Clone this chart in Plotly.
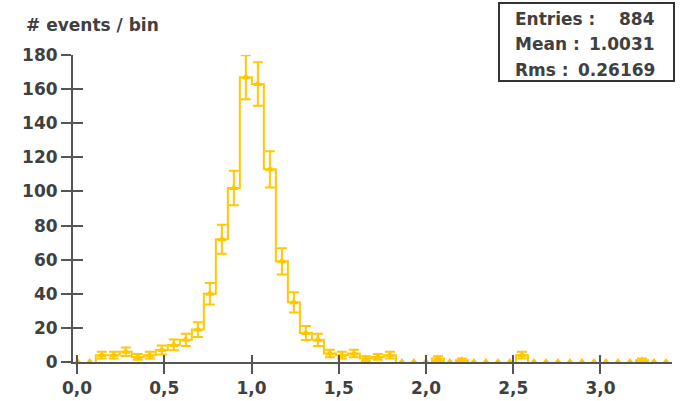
import numpy as np
import plotly.graph_objects as go

# ---------------- data ----------------
X_LOW, X_HIGH, N_BINS = -0.03, 3.41, 50
counts = [0, 0, 4, 4, 6, 3, 4, 7, 10, 13,
          19, 40, 72, 102, 167, 163, 113, 59, 35, 17,
          13, 5, 4, 5, 2, 3, 4, 0, 0, 0,
          2, 0, 1, 0, 0, 0, 0, 4, 0, 0,
          0, 0, 0, 0, 0, 0, 0, 1, 0, 0]
x_ticks = [0.0, 0.5, 1.0, 1.5, 2.0, 2.5, 3.0]
y_ticks = [0, 20, 40, 60, 80, 100, 120, 140, 160, 180]
y_title = "# events / bin"
stats_labels = ["Entries :", "Mean :", "Rms :"]
stats_values = ["884", "1.0031", "0.26169"]

# ---------------- styling ----------------
GOLD = "rgb(255,200,0)"
AXC = "#555555"
TXT = "#404040"
FONT = dict(family="DejaVu Sans", size=17, color=TXT, weight="bold")
W, H = 683, 401
ML, MR, MT, MB = 73, 11, 55, 39
PW, PH = W - ML - MR, H - MT - MB


def px(xp):
    return (xp - ML) / PW


def py(yp):
    return (H - MB - yp) / PH


edges = np.linspace(X_LOW, X_HIGH, N_BINS + 1)
centers = 0.5 * (edges[:-1] + edges[1:])
cnt = np.array(counts, dtype=float)
err = np.sqrt(cnt)

# step outline, only over runs of non-empty bins
sx, sy = [], []
k = 0
while k < N_BINS:
    if cnt[k] > 0:
        a = k
        while k < N_BINS and cnt[k] > 0:
            k += 1
        b = k - 1
        sx.append(edges[a]); sy.append(0)
        for j in range(a, b + 1):
            sx += [edges[j], edges[j + 1]]
            sy += [cnt[j], cnt[j]]
        sx.append(edges[b + 1]); sy.append(0)
        sx.append(None); sy.append(None)
    else:
        k += 1

nz = cnt > 0
fig = go.Figure()
fig.add_trace(go.Scatter(x=sx, y=sy, mode="lines",
                         line=dict(color=GOLD, width=2),
                         hoverinfo="skip", showlegend=False, cliponaxis=False))
fig.add_trace(go.Scatter(x=centers[nz], y=cnt[nz], mode="markers",
                         marker=dict(symbol="triangle-up", size=8, color=GOLD),
                         error_y=dict(type="data", array=err[nz], color=GOLD,
                                      thickness=2, width=5),
                         xaxis="x2", yaxis="y2",
                         showlegend=False, cliponaxis=False))
fig.add_trace(go.Scatter(x=centers[~nz], y=cnt[~nz], mode="markers",
                         marker=dict(symbol="triangle-up", size=8, color=GOLD),
                         xaxis="x2", yaxis="y2",
                         showlegend=False, cliponaxis=False))

axis_common = dict(showgrid=False, zeroline=False, automargin=False)
fig.update_layout(
    width=W, height=H,
    margin=dict(l=ML, r=MR, t=MT, b=MB, pad=0, autoexpand=False),
    paper_bgcolor="white", plot_bgcolor="white",
    separators=", ",
    xaxis=dict(range=[-0.023, 3.41], showline=True, linecolor=AXC, linewidth=2,
               ticks="outside", ticklen=10, tickwidth=2, tickcolor=AXC,
               tickvals=x_ticks, tickformat=".1f", tickfont=FONT, **axis_common),
    yaxis=dict(range=[0, 180], showline=True, linecolor=AXC, linewidth=2,
               ticks="outside", ticklen=10, tickwidth=2, tickcolor=AXC,
               tickvals=y_ticks, tickfont=FONT, **axis_common),
    xaxis2=dict(overlaying="x", matches="x", anchor="y2", showline=False,
                ticks="inside", ticklen=7, tickwidth=2, tickcolor=AXC,
                tickvals=x_ticks, showticklabels=False, **axis_common),
    yaxis2=dict(overlaying="y", matches="y", anchor="x2", showline=False,
                ticks="inside", ticklen=10, tickwidth=2, tickcolor=AXC,
                tickvals=y_ticks, showticklabels=False, **axis_common),
)

ann = [dict(text=y_title, xref="paper", yref="paper", x=px(24), y=py(25),
            xanchor="left", yanchor="middle", showarrow=False, font=FONT)]
line_y = [19, 44.5, 70]
for lab, val, yy in zip(stats_labels, stats_values, line_y):
    ann.append(dict(text=lab, xref="paper", yref="paper", x=px(513), y=py(yy),
                    xanchor="left", yanchor="middle", showarrow=False, font=FONT))
    ann.append(dict(text=val, xref="paper", yref="paper", x=px(657), y=py(yy),
                    xanchor="right", yanchor="middle", showarrow=False, font=FONT))
fig.update_layout(annotations=ann)
fig.add_shape(type="rect", xref="paper", yref="paper",
              x0=px(499), x1=px(674), y0=py(81), y1=py(3),
              line=dict(color="#333333", width=2), fillcolor="white", layer="above")

fig.write_html("out.html")
